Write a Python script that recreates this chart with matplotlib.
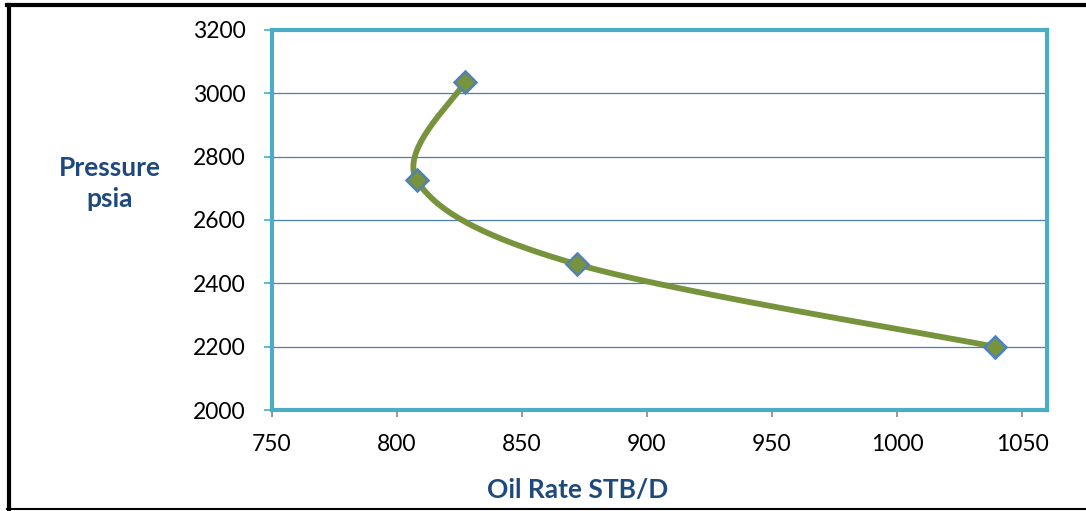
import numpy as np
import matplotlib.pyplot as plt
from matplotlib.lines import Line2D

# Pressure vs oil rate points
oil_rate = [827, 808, 872, 1039]
pressure = [3035, 2725, 2460, 2200]

x_ticks = [750, 800, 850, 900, 950, 1000, 1050]
y_ticks = [2000, 2200, 2400, 2600, 2800, 3000, 3200]

plt.rcParams['font.family'] = ['Lato', 'DejaVu Sans']

fig = plt.figure(figsize=(10.86, 5.11), dpi=100)
ax = fig.add_axes([272 / 1086, 1 - 410 / 511, (1047 - 272) / 1086, 380 / 511])

xlim = (750, 1060)
ylim = (2000, 3200)
ax.set_xlim(*xlim)
ax.set_ylim(*ylim)


def smooth(xs, ys, n=60):
    # Bezier smoothing like a spreadsheet "smoothed line", done in axes units
    px = (np.asarray(xs, float) - xlim[0]) / (xlim[1] - xlim[0]) * 775
    py = (np.asarray(ys, float) - ylim[0]) / (ylim[1] - ylim[0]) * 380
    pts = np.column_stack([px, py])
    out = []
    t = np.linspace(0, 1, n)[:, None]
    for i in range(len(pts) - 1):
        p0 = pts[max(i - 1, 0)]
        p1 = pts[i]
        p2 = pts[i + 1]
        p3 = pts[min(i + 2, len(pts) - 1)]
        c1 = p1 + (p2 - p0) / 6
        c2 = p2 - (p3 - p1) / 6
        seg = ((1 - t) ** 3 * p1 + 3 * (1 - t) ** 2 * t * c1
               + 3 * (1 - t) * t ** 2 * c2 + t ** 3 * p2)
        out.append(seg)
    out = np.vstack(out)
    sx = out[:, 0] / 775 * (xlim[1] - xlim[0]) + xlim[0]
    sy = out[:, 1] / 380 * (ylim[1] - ylim[0]) + ylim[0]
    return sx, sy


sx, sy = smooth(oil_rate, pressure)
ax.plot(sx, sy, color='#77933C', lw=4.2, solid_capstyle='round', zorder=3)
ax.plot(oil_rate, pressure, ls='none', marker='D', ms=11,
        mfc='#77933C', mec='#4F81BD', mew=1.8, zorder=4)

ax.set_xticks(x_ticks)
ax.set_yticks(y_ticks)
ax.grid(axis='y', color='#4A7EBB', lw=0.9)
ax.set_axisbelow(True)
for s in ax.spines.values():
    s.set_color('#4BACC6')
    s.set_linewidth(3)
ax.tick_params(axis='x', direction='out', length=5, width=1.2,
               color='#868686', labelsize=16.5, pad=12)
ax.tick_params(axis='y', direction='out', length=6, width=1.2,
               color='#4BACC6', labelsize=16.5, pad=13)

fig.text(110 / 1086, 1 - 183 / 511, 'Pressure\npsia', ha='center', va='center',
         fontsize=19, fontweight='bold', color='#1F497D', linespacing=1.35)
fig.text(578 / 1086, 1 - 490 / 511, 'Oil Rate STB/D', ha='center', va='center',
         fontsize=19, fontweight='bold', color='#1F497D')

# outer frame
fig.add_artist(Line2D([9 / 1086, 9 / 1086], [1 - 5.5 / 511, 1 - 509 / 511],
                      transform=fig.transFigure, color='black', lw=3))
fig.add_artist(Line2D([7 / 1086, 1], [1 - 5.5 / 511, 1 - 5.5 / 511],
                      transform=fig.transFigure, color='black', lw=3))
fig.add_artist(Line2D([7 / 1086, 1], [1 - 509 / 511, 1 - 509 / 511],
                      transform=fig.transFigure, color='black', lw=1.5))

fig.savefig('out.png', dpi=100)
